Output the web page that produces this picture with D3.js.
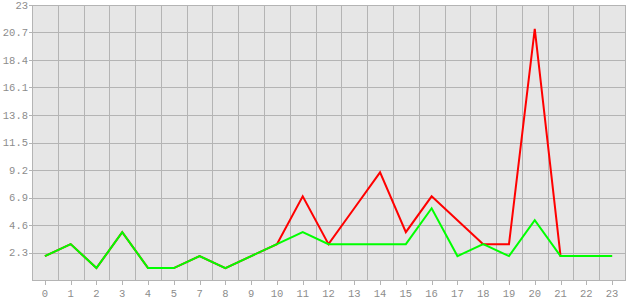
<!DOCTYPE html>
<html>
<head>
<meta charset="utf-8">
<script src="https://cdn.jsdelivr.net/npm/d3@7"></script>
<style>
  body { margin: 0; background: #fff; }
  svg text { font-family: "Liberation Mono", monospace; font-size: 10.5px; fill: #8c8c8c; }
</style>
</head>
<body>
<svg id="chart" width="630" height="300"></svg>
<script>
// categories on the x axis (there is no 6 in the source)
const categories = ["0","1","2","3","4","5","7","8","9","10","11","12","13","14","15","16","17","18","19","20","21","22","23"];
const redValues   = [2,3,1,4,1,1,2,1,2,3,7,3,6,9,4,7,5,3,3,21,2,2,2];
const greenValues = [2,3,1,4,1,1,2,1,2,3,4,3,3,3,3,6,2,3,2,5,2,2,2];
const yTicks = [2.3,4.6,6.9,9.2,11.5,13.8,16.1,18.4,20.7,23];

const svg = d3.select("#chart");
const plotLeft = 32, plotTop = 5, plotRight = 625, plotBottom = 280;
const gridColor = "#b4b4b4";

const x = d3.scaleBand().domain(categories).range([plotLeft, plotRight]).padding(0);
const y = d3.scaleLinear().domain([0, 23]).range([plotBottom, plotTop]);
const cx = d => x(d) + x.bandwidth() / 2;

svg.append("rect").attr("x", plotLeft).attr("y", plotTop)
    .attr("width", plotRight - plotLeft).attr("height", plotBottom - plotTop).attr("fill", "#e6e6e6");

// horizontal grid
svg.append("g").selectAll("line").data(yTicks).enter().append("line")
    .attr("x1", plotLeft - 3).attr("x2", plotRight)
    .attr("y1", d => Math.round(y(d)) + 0.5).attr("y2", d => Math.round(y(d)) + 0.5)
    .attr("stroke", gridColor);

// vertical grid on band edges
svg.append("g").selectAll("line").data(categories).enter().append("line")
    .attr("x1", d => Math.round(x(d)) + 0.5).attr("x2", d => Math.round(x(d)) + 0.5)
    .attr("y1", plotTop).attr("y2", plotBottom)
    .attr("stroke", gridColor);

// frame: right edge and bottom axis line
svg.append("line").attr("x1", plotRight + 0.5).attr("x2", plotRight + 0.5).attr("y1", plotTop).attr("y2", plotBottom).attr("stroke", gridColor);
svg.append("line").attr("x1", plotLeft).attr("x2", plotRight + 1).attr("y1", plotBottom + 0.5).attr("y2", plotBottom + 0.5).attr("stroke", gridColor);

// x ticks and labels
const xg = svg.append("g").selectAll("g").data(categories).enter().append("g");
xg.append("line")
    .attr("x1", d => Math.round(cx(d)) + 0.5).attr("x2", d => Math.round(cx(d)) + 0.5)
    .attr("y1", plotBottom).attr("y2", plotBottom + 5).attr("stroke", gridColor);
xg.append("text").attr("x", d => cx(d)).attr("y", plotBottom + 17)
    .attr("text-anchor", "middle").text(d => d);

// y labels
svg.append("g").selectAll("text").data(yTicks).enter().append("text")
    .attr("x", plotLeft - 4).attr("y", d => y(d)).attr("dy", "0.35em")
    .attr("text-anchor", "end").text(d => d);

const line = d3.line().x((d, i) => cx(categories[i])).y(d => y(d));

svg.append("path").datum(redValues).attr("d", line)
    .attr("fill", "none").attr("stroke", "#ff0000").attr("stroke-width", 2);
svg.append("path").datum(greenValues).attr("d", line)
    .attr("fill", "none").attr("stroke", "#00ff00").attr("stroke-width", 2);
</script>
</body>
</html>
